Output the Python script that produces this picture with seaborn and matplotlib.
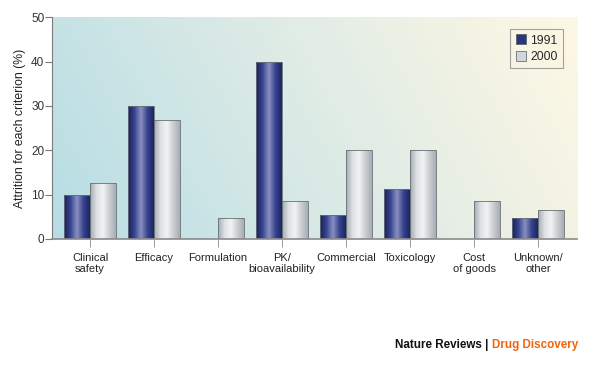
"""
Attrition by criterion, 1991 vs 2000 (Nature Reviews | Drug Discovery)
"""
import numpy as np
import pandas as pd
import matplotlib
matplotlib.use('Agg')
import matplotlib.pyplot as plt
import seaborn as sns
from matplotlib.colors import LinearSegmentedColormap, to_rgb

# 데이터
categories = ['Clinical\nsafety', 'Efficacy', 'Formulation', 'PK/\nbioavailability',
              'Commercial', 'Toxicology', 'Cost\nof goods', 'Unknown/\nother']
years = ['1991', '2000']
values_1991 = [10.0, 30.0, 0.0, 40.0, 5.3, 11.3, 0.0, 4.6]
values_2000 = [12.7, 26.8, 4.6, 8.5, 20.1, 20.1, 8.5, 6.4]
yticks = [0, 10, 20, 30, 40, 50]

df = pd.DataFrame({
    'criterion': categories * 2,
    'year': [years[0]] * len(categories) + [years[1]] * len(categories),
    'attrition': values_1991 + values_2000,
})

sns.set_style('ticks')
plt.rcParams['font.family'] = ['Liberation Sans', 'DejaVu Sans']

fig = plt.figure(figsize=(6.0, 3.68), dpi=100)
ax = fig.add_axes([0.0867, 0.351, 0.8753, 0.602])

XLIM = (-0.594, 7.61)

palette = {'1991': '#1f2a6e', '2000': '#c4c9cd'}
sns.barplot(data=df, x='criterion', y='attrition', hue='year', palette=palette,
            width=0.81, saturation=1, edgecolor='#6a6f74', linewidth=0.6, ax=ax)

ax.set_xlim(*XLIM)
ax.set_ylim(0, 50)

# 배경 그라데이션 (왼쪽 아래 청록 -> 오른쪽 크림)
nx, ny = 300, 120
gx = np.linspace(0, 1, nx)[None, :]
gy = np.linspace(0, 1, ny)[:, None]  # 0 = bottom
t = np.clip(0.85 * gx + 0.2 * gy, 0, 1)
c0 = np.array(to_rgb('#b6dde4'))
c1 = np.array(to_rgb('#d8e9e6'))
c2 = np.array(to_rgb('#fcf7e4'))
img = np.where(t[..., None] < 0.45,
               c0 + (c1 - c0) * (t[..., None] / 0.45),
               c1 + (c2 - c1) * ((t[..., None] - 0.45) / 0.55))
ax.imshow(img, extent=[XLIM[0], XLIM[1], 0, 50], origin='lower', aspect='auto',
          zorder=0, interpolation='bilinear')

# 막대 원통 음영
shade = {
    '1991': LinearSegmentedColormap.from_list('n', ['#17205e', '#3a4590', '#8a90c4', '#3a4590', '#1a2466']),
    '2000': LinearSegmentedColormap.from_list('g', ['#a3abb1', '#dde1e3', '#f2f3f3', '#c9ced2', '#a7aeb4']),
}
grad = np.linspace(0, 1, 64)[None, :]
for container, yr in zip(ax.containers, years):
    for bar in container:
        h = bar.get_height()
        if h <= 0:
            bar.set_visible(False)
            continue
        x0 = bar.get_x()
        w = bar.get_width()
        im = ax.imshow(grad, cmap=shade[yr], extent=[x0, x0 + w, 0, h],
                       aspect='auto', zorder=2, interpolation='bilinear')
        im.set_clip_path(bar)
        bar.set_zorder(3)
        bar.set_facecolor('none')

# 축 스타일
for s in ['top', 'right']:
    ax.spines[s].set_visible(False)
ax.spines['left'].set_color('#7a7a7a')
ax.spines['bottom'].set_color('#8a8a8a')
ax.spines['left'].set_linewidth(0.8)
ax.spines['bottom'].set_linewidth(1.2)
ax.spines['left'].set_zorder(4)
ax.spines['bottom'].set_zorder(4)

ax.set_yticks(yticks)
ax.tick_params(axis='y', length=5, width=0.8, color='#7a7a7a', labelsize=8.5,
               labelcolor='#333333', pad=0.5)
ax.tick_params(axis='x', length=6, width=0.6, color='#8a8a8a', labelsize=8,
               labelcolor='#222222', pad=4)
ax.set_xlabel('')
ax.set_ylabel('Attrition for each criterion (%)', fontsize=8.8, color='#222222', labelpad=4)
for lbl in ax.get_xticklabels():
    lbl.set_linespacing(1.2)

# 범례
leg = ax.legend(title=None, loc='upper right', bbox_to_anchor=(0.985, 0.975),
                fontsize=8.8, frameon=True, fancybox=False, handlelength=0.85,
                handleheight=0.85, handletextpad=0.35, borderpad=0.45, labelspacing=0.35)
leg.get_frame().set_edgecolor('#8a8a8a')
leg.get_frame().set_linewidth(0.8)
leg.get_frame().set_facecolor('none')
for patch, yr in zip(leg.get_patches(), years):
    patch.set_facecolor('#2a3580' if yr == '1991' else '#d2d6d9')
    patch.set_edgecolor('#555a60')
    patch.set_linewidth(0.5)

# 출처
t_dd = fig.text(0.963, 0.062, 'Drug Discovery', ha='right', va='center', fontsize=8.4,
                fontweight='bold', color='#ee6411')
fig.canvas.draw()
bb = t_dd.get_window_extent()
x_left = fig.transFigure.inverted().transform((bb.x0, bb.y0))[0]
fig.text(x_left, 0.062, 'Nature Reviews | ', ha='right', va='center', fontsize=8.4,
         fontweight='bold', color='#111111')

fig.savefig('out.png', dpi=100)
